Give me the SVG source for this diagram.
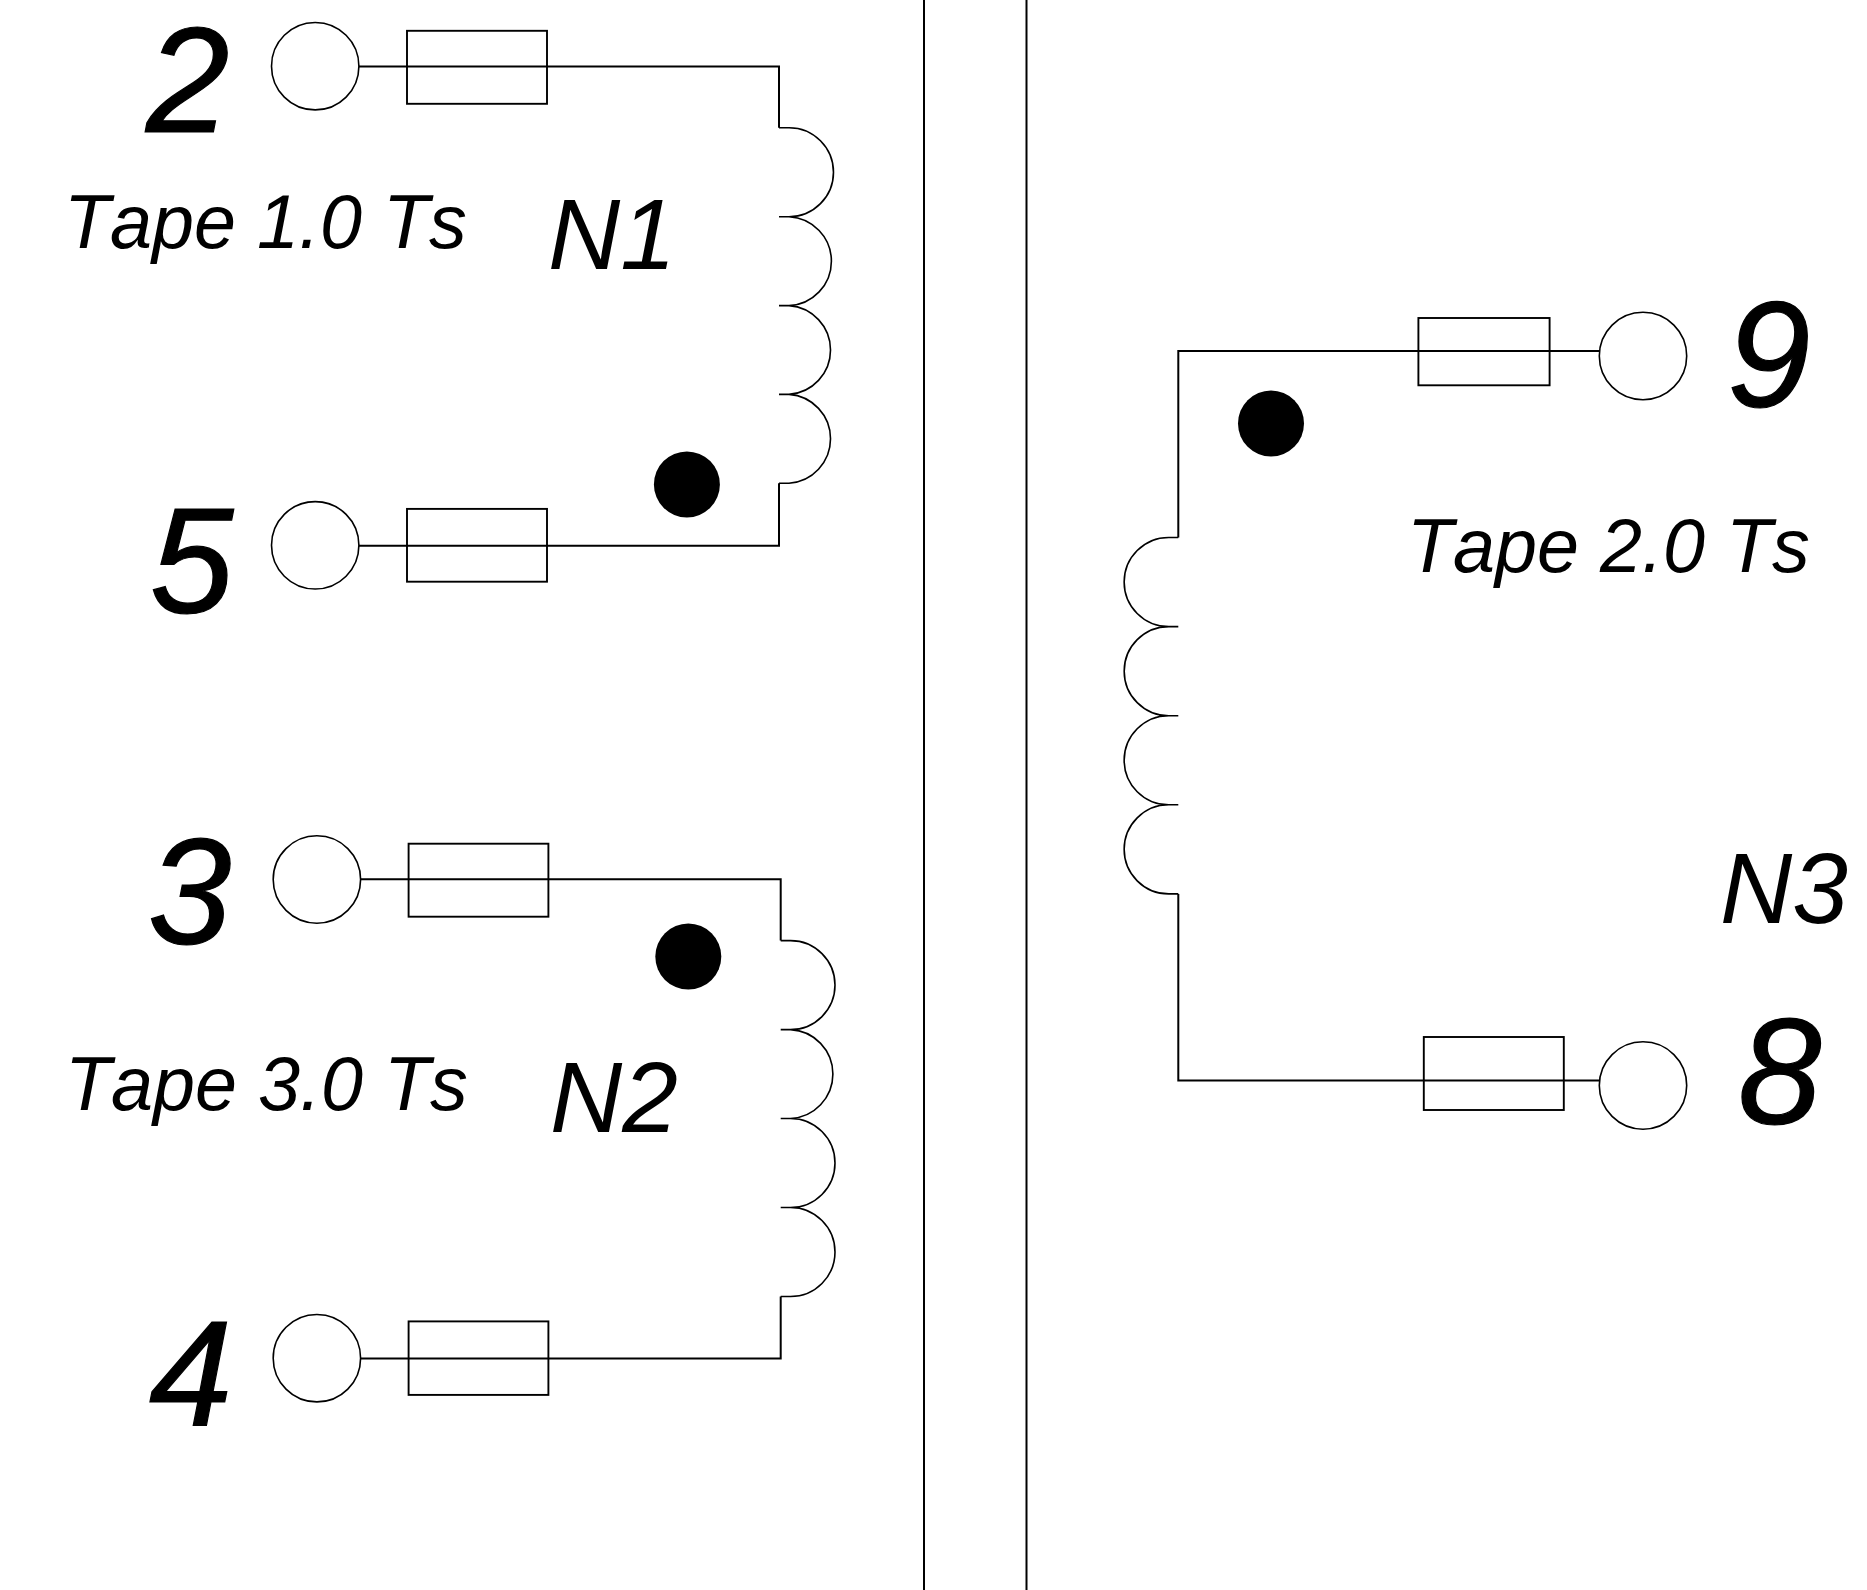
<svg xmlns="http://www.w3.org/2000/svg" width="1867" height="1590" viewBox="0 0 1867 1590">
<style>
.w{fill:none;stroke:#000;stroke-width:2}
.c{fill:none;stroke:#000;stroke-width:1.6}
.p{fill:#fff;stroke:#000;stroke-width:1.6}
.r{fill:none;stroke:#000;stroke-width:1.9}
.d{fill:#000}
text{font-family:"Liberation Sans",Arial,sans-serif;font-style:italic;fill:#000;font-kerning:none}
.n{font-size:150px;stroke:#000;stroke-width:1.2}
.t{font-size:75.500px}
.m{font-size:100px}
</style>
<rect width="1867" height="1590" fill="#fff"/>
<g id="connectors">
<path class="w" d="M924 0V1590M1026.500 0V1590"/>
<path class="w" d="M358.800 66.400H779V127.700M358.800 545.700H779V483.200"/>
<path class="c" d="M779 127.700H789A44.500 44.500 0 0 1 789 216.700H779M789 216.700A44.500 44.500 0 0 1 789 305.600H779M789 305.600A44.500 44.500 0 0 1 789 394.400H779M789 394.400A44.500 44.500 0 0 1 789 483.200H779"/>
<path class="w" d="M360.500 879.300H780.700V940.600M360.500 1358.500H780.700V1296.500"/>
<path class="c" d="M780.700 940.600H790.500A44.500 44.500 0 0 1 790.500 1029.600H780.700M790.500 1029.600A44.500 44.500 0 0 1 790.500 1118.500H780.700M790.500 1118.500A44.500 44.500 0 0 1 790.500 1207.500H780.700M790.500 1207.500A44.500 44.500 0 0 1 790.500 1296.500H780.700"/>
<path class="w" d="M1599.500 351H1178.300V537.500M1178.300 893.900V1080.500H1599.500"/>
<path class="c" d="M1178.300 537.500H1168.700A44.550 44.550 0 0 0 1168.700 626.600H1178.300M1168.700 626.600A44.550 44.550 0 0 0 1168.700 715.700H1178.300M1168.700 715.700A44.550 44.550 0 0 0 1168.700 804.800H1178.300M1168.700 804.800A44.550 44.550 0 0 0 1168.700 893.900H1178.300"/>
</g>
<g id="pin2"><circle class="p" cx="315.200" cy="66.200" r="43.700"/><rect class="r" x="407" y="30.800" width="140" height="73"/><text class="n" x="146" y="132">2</text></g>
<g id="pin5"><circle class="p" cx="315.200" cy="545.300" r="43.700"/><rect class="r" x="407" y="508.900" width="140" height="72.800"/><text class="n" x="150" y="613">5</text></g>
<g id="pin3"><circle class="p" cx="316.900" cy="879.500" r="43.700"/><rect class="r" x="408.600" y="843.700" width="139.800" height="73"/><text class="n" x="148" y="944">3</text></g>
<g id="pin4"><circle class="p" cx="316.900" cy="1358.200" r="43.700"/><rect class="r" x="408.600" y="1321.400" width="139.800" height="73.500"/><text class="n" x="149" y="1425">4</text></g>
<g id="pin9"><circle class="p" cx="1643" cy="356" r="43.700"/><rect class="r" x="1418.400" y="318" width="131.200" height="67.300"/><text class="n" x="1727" y="407">9</text></g>
<g id="pin8"><circle class="p" cx="1643" cy="1085.500" r="43.700"/><rect class="r" x="1423.800" y="1037" width="140" height="73"/><text class="n" x="1738" y="1124">8</text></g>
<g id="winding-n1"><circle class="d" cx="686.900" cy="484.400" r="33"/><text class="t" x="64" y="248">Tape 1.0 Ts</text><text class="m" x="548" y="269">N1</text></g>
<g id="winding-n2"><circle class="d" cx="688.300" cy="956.600" r="33"/><text class="t" x="65" y="1110">Tape 3.0 Ts</text><text class="m" x="550" y="1132">N2</text></g>
<g id="winding-n3"><circle class="d" cx="1271" cy="423.500" r="33"/><text class="t" x="1407" y="571.500">Tape 2.0 Ts</text><text class="m" x="1720" y="923">N3</text></g>
</svg>
